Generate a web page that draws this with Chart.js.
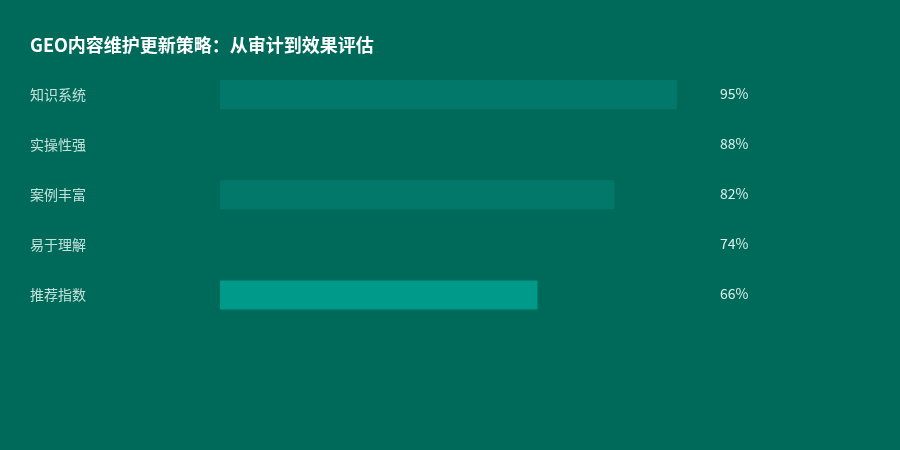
<!DOCTYPE html>
<html>
<head>
<meta charset="utf-8">
<script src="https://cdn.jsdelivr.net/npm/chart.js@4"></script>
<style>
  html, body { margin: 0; padding: 0; background: #006a5a; }
  #wrap { width: 900px; height: 450px; }
</style>
</head>
<body>
<div id="wrap"><canvas id="geoChart"></canvas></div>
<script>
const categories = ['知识系统', '实操性强', '案例丰富', '易于理解', '推荐指数'];
const scores = [95, 88, 82, 74, 66];
const barColors = ['#02786a', '#006a5a', '#02786a', '#006a5a', '#009a8a'];

const valueLabels = {
  id: 'valueLabels',
  afterDatasetsDraw(chart) {
    const c = chart.ctx;
    const y = chart.scales.y;
    c.save();
    c.fillStyle = '#dcefea';
    c.font = '14px "Noto Sans CJK SC", "Noto Sans", sans-serif';
    c.textBaseline = 'middle';
    c.textAlign = 'left';
    scores.forEach((v, i) => {
      c.fillText(v + '%', chart.chartArea.right + 19, y.getPixelForValue(i) - 1);
    });
    c.restore();
  }
};

new Chart(document.getElementById('geoChart').getContext('2d'), {
  type: 'bar',
  data: {
    labels: categories,
    datasets: [{
      data: scores,
      backgroundColor: barColors,
      borderWidth: 0,
      barPercentage: 0.58,
      categoryPercentage: 1
    }]
  },
  options: {
    indexAxis: 'y',
    responsive: true,
    maintainAspectRatio: false,
    animation: false,
    layout: { padding: { top: 34, left: 30, right: 199, bottom: 130 } },
    scales: {
      x: { display: false, min: 0, max: 100 },
      y: {
        grid: { display: false, drawTicks: false },
        border: { display: false },
        afterFit(scale) { scale.width = 190; },
        ticks: {
          crossAlign: 'far',
          padding: 0,
          color: '#c5e0da',
          font: { size: 14, family: '"Noto Sans CJK SC", "Noto Sans", sans-serif' }
        }
      }
    },
    plugins: {
      legend: { display: false },
      tooltip: { enabled: false },
      title: {
        display: true,
        text: 'GEO内容维护更新策略：从审计到效果评估',
        align: 'start',
        color: '#ffffff',
        padding: { top: 0, bottom: 14 },
        font: { size: 18, weight: 'bold', family: '"Noto Sans CJK SC", "Noto Sans", sans-serif' }
      }
    }
  },
  plugins: [valueLabels]
});
</script>
</body>
</html>
